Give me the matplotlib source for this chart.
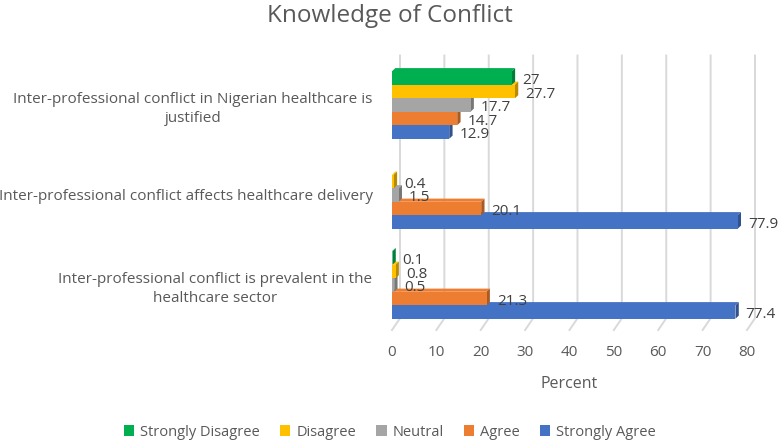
import matplotlib.pyplot as plt
import numpy as np
from matplotlib.patches import Polygon, Patch
from matplotlib.colors import to_rgb

plt.rcParams["font.family"] = ["Open Sans", "DejaVu Sans"]

categories = [
    "Inter-professional conflict in Nigerian healthcare is\njustified",
    "Inter-professional conflict affects healthcare delivery",
    "Inter-professional conflict is prevalent in the\nhealthcare sector",
]
series = ["Strongly Disagree", "Disagree", "Neutral", "Agree", "Strongly Agree"]
strongly_disagree = [27, None, 0.1]
disagree = [27.7, 0.4, 0.8]
neutral = [17.7, 1.5, 0.5]
agree = [14.7, 20.1, 21.3]
strongly_agree = [12.9, 77.9, 77.4]
values = [strongly_disagree, disagree, neutral, agree, strongly_agree]
colors = ["#00B050", "#FFC000", "#A5A5A5", "#ED7D31", "#4472C4"]
xticks = [0, 10, 20, 30, 40, 50, 60, 70, 80]

TEXT = "#595959"


def shade(c, f):
    r, g, b = to_rgb(c)
    return (r * f, g * f, b * f)


fig = plt.figure(figsize=(7.8, 4.43), dpi=100)
ax = fig.add_axes((392 / 780, 1 - 330 / 443, 355 / 780, 270 / 443))
ax.set_xlim(0, 80)
ax.set_ylim(-0.5, 2.5)
for s in ax.spines.values():
    s.set_visible(False)

# depth of the pseudo 3D boxes in data units
dx, dy = 0.75, 0.035
gdx, gdy = 1.8, 0.13

# gridlines on the back wall + floor
for x in xticks:
    ax.plot([x + gdx, x + gdx, x], [2.55, -0.5 + gdy, -0.5], color="#D9D9D9",
            lw=1.4, zorder=0, clip_on=False)

bh = 0.15
n_cat = len(categories)
for ci in range(n_cat):
    yc = n_cat - 1 - ci
    # draw from the bottom bar (blue) upward so upper bars cover the lower tops
    for si in reversed(range(len(series))):
        v = values[si][ci]
        if v is None:
            continue
        y0 = yc + 0.375 - (si + 1) * bh
        y1 = y0 + bh
        c = colors[si]
        top = Polygon([(0, y1), (dx, y1 + dy), (v + dx, y1 + dy), (v, y1)],
                      closed=True, fc=shade(c, 1.0), ec="none", zorder=2)
        side = Polygon([(v, y0), (v + dx, y0 + dy), (v + dx, y1 + dy), (v, y1)],
                       closed=True, fc=shade(c, 0.72), ec="none", zorder=2)
        ax.add_patch(top)
        ax.add_patch(side)
        ax.barh(y0 + bh / 2, v, height=bh, left=0, color=c, zorder=3)
        ax.annotate(f"{v:g}", xy=(v + dx, y0 + bh / 2), xytext=(5, -2),
                    textcoords="offset points", ha="left", va="center",
                    fontsize=11, color="#404040", zorder=4)

ax.set_yticks(range(n_cat))
ax.set_yticklabels(categories[::-1], multialignment="center", linespacing=1.4)
ax.set_xticks(xticks)
ax.tick_params(axis="y", length=0, pad=14, labelsize=11, labelcolor=TEXT)
ax.tick_params(axis="x", length=0, pad=11, labelsize=11, labelcolor=TEXT)
ax.set_xlabel("Percent", fontsize=11.5, color=TEXT, labelpad=11)

fig.suptitle("Knowledge of Conflict", y=0.99, fontsize=17.5, color=TEXT)

handles = [Patch(facecolor=c, label=s) for c, s in zip(colors, series)]
fig.legend(handles=handles, loc="center", bbox_to_anchor=(0.5, 1 - 432 / 443),
           ncol=5, frameon=False, fontsize=10.5, labelcolor=TEXT,
           handlelength=0.7, handleheight=0.7, handletextpad=0.4,
           columnspacing=1.4)

fig.savefig("out.png", dpi=100, facecolor="white")
